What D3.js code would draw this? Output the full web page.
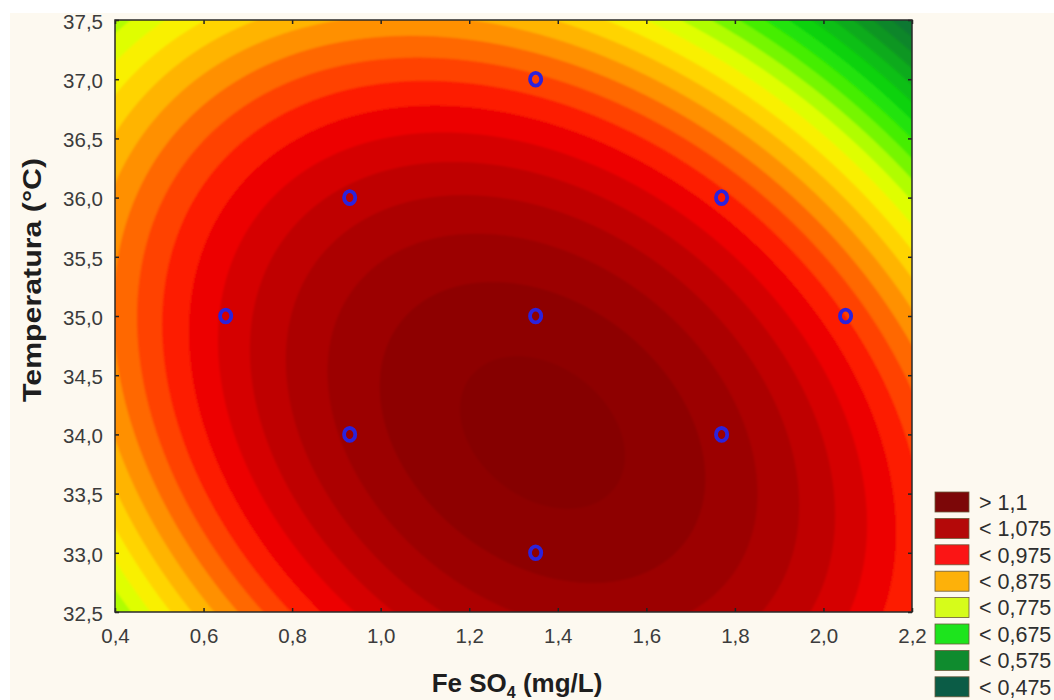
<!DOCTYPE html>
<html>
<head>
<meta charset="utf-8">
<script src="https://cdn.jsdelivr.net/npm/d3@7"></script>
<style>
  html, body { margin: 0; padding: 0; background: #ffffff; }
  svg { display: block; }
</style>
</head>
<body>
<svg id="chart" width="1054" height="700"></svg>
<script>
// Experimental design points (FeSO4 in mg/L, temperature in °C)
const feso4 = [1.35, 0.93, 1.77, 0.65, 1.35, 2.05, 0.93, 1.77, 1.35];
const temperatura = [37.0, 36.0, 36.0, 35.0, 35.0, 35.0, 34.0, 34.0, 33.0];

// Fitted second-order response surface, coded units:
// u = (FeSO4 - 1.35) / 0.42 , v = (Temperatura - 35) / 1
const coefB0 = 1.112;
const coefU = -0.0166;
const coefV = -0.0445;
const coefUU = -0.0485;
const coefVV = -0.023;
const coefUV = -0.0205;
const codeCenter = [1.35, 35.0];
const codeStep = [0.42, 1.0];

// Axis ticks
const xTicks = [0.4, 0.6, 0.8, 1.0, 1.2, 1.4, 1.6, 1.8, 2.0, 2.2];
const yTicks = [32.5, 33.0, 33.5, 34.0, 34.5, 35.0, 35.5, 36.0, 36.5, 37.0, 37.5];

// Legend entries
const legendLabels = ["> 1,1", "< 1,075", "< 0,975", "< 0,875", "< 0,775", "< 0,675", "< 0,575", "< 0,475"];
const legendColors = ["#7c0708", "#b40909", "#fb1515", "#fdb10a", "#d6fc1a", "#1de41d", "#0f8b2e", "#0b5c46"];

// Colour ramp of the filled contour bands
const rampStops = [0.45, 0.475, 0.525, 0.575, 0.625, 0.675, 0.7, 0.725, 0.75, 0.775, 0.8, 0.825, 0.85, 0.875, 0.9, 0.925, 0.95, 0.975, 1.0, 1.05, 1.1, 1.13];
const rampColors = ["#035538", "#0a5f40", "#0c7234", "#0b8c26", "#08b516", "#10dc0a", "#30ea04", "#58f200", "#94fa00", "#ccff00", "#f2fc00", "#ffe400", "#ffc400", "#ffa400", "#ff7c00", "#ff5400", "#ff3000", "#fa0c00", "#e00000", "#b40000", "#940000", "#860000"];
const bandStep = 0.025;

const svg = d3.select("#chart");
const W = 1054, H = 700;

// Page background
svg.append("rect").attr("x", 0).attr("y", 0).attr("width", W).attr("height", H).attr("fill", "#ffffff");
svg.append("rect").attr("x", 10).attr("y", 13).attr("width", W - 10).attr("height", H - 13).attr("fill", "#fdf9f0");

const plot = { left: 115, right: 912, top: 20, bottom: 612 };

const x = d3.scaleLinear().domain([0.4, 2.2]).range([plot.left, plot.right]);
const y = d3.scaleLinear().domain([32.5, 37.5]).range([plot.bottom, plot.top]);

function response(fe, t) {
  const u = (fe - codeCenter[0]) / codeStep[0];
  const v = (t - codeCenter[1]) / codeStep[1];
  return coefB0 + coefU * u + coefV * v + coefUU * u * u + coefVV * v * v + coefUV * u * v;
}

const color = d3.scaleLinear().domain(rampStops).range(rampColors).interpolate(d3.interpolateRgb).clamp(true);

// Sample the surface on a grid slightly larger than the plotted domain
const nx = 260, ny = 200;
const pad = 3;
const xs = d3.scaleLinear().domain([-pad, nx - 1 - pad]).range([0.4 - 0.02, 2.2 + 0.02]);
const ys = d3.scaleLinear().domain([-pad, ny - 1 - pad]).range([37.5 + 0.02, 32.5 - 0.02]);
const values = new Array(nx * ny);
for (let j = 0; j < ny; j++) {
  for (let i = 0; i < nx; i++) {
    values[j * nx + i] = response(xs(i - pad), ys(j - pad));
  }
}

const nBands = Math.round((1.2 - 0.3) / bandStep);
const thresholds = d3.range(nBands + 1).map(k => +(0.3 + k * bandStep).toFixed(4));

const contours = d3.contours().size([nx, ny]).thresholds(thresholds)(values);

const proj = d3.geoTransform({
  point: function (cx, cy) {
    this.stream.point(x(xs(cx - 0.5 - pad)), y(ys(cy - 0.5 - pad)));
  }
});
const path = d3.geoPath(proj);

const defs = svg.append("defs");
defs.append("clipPath").attr("id", "plotClip")
  .append("rect")
  .attr("x", plot.left).attr("y", plot.top)
  .attr("width", plot.right - plot.left).attr("height", plot.bottom - plot.top);
defs.append("filter").attr("id", "soft")
  .attr("x", "-5%").attr("y", "-5%").attr("width", "110%").attr("height", "110%")
  .append("feGaussianBlur").attr("stdDeviation", 0.9);

const surface = svg.append("g").attr("clip-path", "url(#plotClip)")
  .append("g").attr("filter", "url(#soft)");

surface.selectAll("path")
  .data(contours)
  .join("path")
  .attr("d", path)
  .attr("fill", d => color(d.value + bandStep / 2))
  .attr("stroke", d => color(d.value + bandStep / 2))
  .attr("stroke-width", 0.5);

// Ticks on all four sides, pointing inward
const fmt = v => d3.format(".1f")(v).replace(".", ",");
const tickFont = "'Liberation Sans', Arial, sans-serif";

const gxb = svg.append("g").attr("transform", `translate(0,${plot.bottom})`)
  .call(d3.axisBottom(x).tickValues(xTicks).tickFormat(fmt).tickSizeInner(-4).tickSizeOuter(0).tickPadding(16));
const gxt = svg.append("g").attr("transform", `translate(0,${plot.top})`)
  .call(d3.axisTop(x).tickValues(xTicks).tickFormat("").tickSizeInner(-4).tickSizeOuter(0));
const gyl = svg.append("g").attr("transform", `translate(${plot.left},0)`)
  .call(d3.axisLeft(y).tickValues(yTicks).tickFormat(fmt).tickSizeInner(-4).tickSizeOuter(0).tickPadding(12));
const gyr = svg.append("g").attr("transform", `translate(${plot.right},0)`)
  .call(d3.axisRight(y).tickValues(yTicks).tickFormat("").tickSizeInner(-4).tickSizeOuter(0));

[gxb, gxt, gyl, gyr].forEach(g => {
  g.select(".domain").remove();
  g.selectAll(".tick line").attr("stroke", "#222").attr("stroke-width", 1.5);
  g.selectAll(".tick text")
    .attr("fill", "#3c3c3c")
    .style("font-family", tickFont)
    .style("font-size", "20.5px");
});
gyl.selectAll(".tick text").attr("dy", "0.4em");
gxb.selectAll(".tick text").attr("dy", "0.71em");

// Plot frame
svg.append("rect")
  .attr("x", plot.left).attr("y", plot.top)
  .attr("width", plot.right - plot.left).attr("height", plot.bottom - plot.top)
  .attr("fill", "none").attr("stroke", "#2a2a2a").attr("stroke-width", 1.5);

// Design points
svg.append("g").selectAll("ellipse")
  .data(feso4.map((d, i) => [d, temperatura[i]]))
  .join("ellipse")
  .attr("cx", d => x(d[0]))
  .attr("cy", d => y(d[1]))
  .attr("rx", 5.6)
  .attr("ry", 6.4)
  .attr("fill", "none")
  .attr("stroke", "#2c22dc")
  .attr("stroke-width", 3.8);

// Axis titles
const titleFont = "'Liberation Sans', Arial, sans-serif";
const xTitle = svg.append("text")
  .attr("x", 517).attr("y", 692)
  .attr("text-anchor", "middle")
  .attr("fill", "#1e1e1e")
  .style("font-family", titleFont)
  .style("font-weight", "bold")
  .style("font-size", "26px");
xTitle.append("tspan").text("Fe SO");
xTitle.append("tspan").attr("font-size", "16px").attr("dy", "6").text("4");
xTitle.append("tspan").attr("dy", "-6").text(" (mg/L)");

svg.append("text")
  .attr("transform", "translate(41,280) rotate(-90)")
  .attr("text-anchor", "middle")
  .attr("fill", "#1e1e1e")
  .attr("textLength", 244)
  .attr("lengthAdjust", "spacingAndGlyphs")
  .style("font-family", titleFont)
  .style("font-weight", "bold")
  .style("font-size", "26px")
  .text("Temperatura (°C)");

// Legend
const legend = svg.append("g");
const legendItems = legend.selectAll("g")
  .data(legendLabels.map((l, i) => ({ label: l, color: legendColors[i] })))
  .join("g")
  .attr("transform", (d, i) => `translate(935,${492 + i * 26.4})`);
legendItems.append("rect")
  .attr("width", 34).attr("height", 20)
  .attr("fill", d => d.color)
  .attr("stroke", "#6b5a3a").attr("stroke-width", 0.8);
legendItems.append("text")
  .attr("x", 44).attr("y", 10).attr("dy", "0.36em")
  .attr("fill", "#2e2e2e")
  .style("font-family", tickFont)
  .style("font-size", "21.5px")
  .text(d => d.label);
</script>
</body>
</html>
